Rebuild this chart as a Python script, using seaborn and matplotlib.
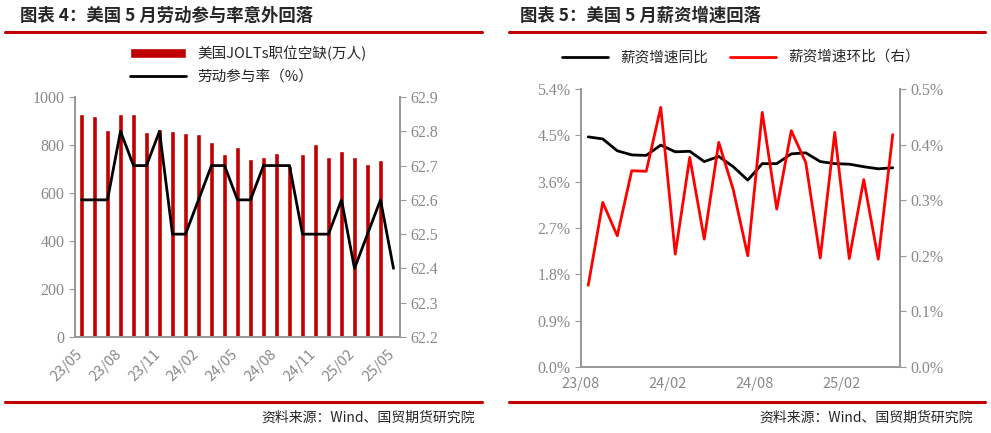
import numpy as np
import pandas as pd
import matplotlib
matplotlib.use("Agg")
import matplotlib.pyplot as plt
import seaborn as sns

sns.set_style("white")
plt.rcParams['font.family'] = ['Noto Sans CJK SC', 'DejaVu Sans']
plt.rcParams['axes.unicode_minus'] = False

months_l = ["23/05","23/06","23/07","23/08","23/09","23/10","23/11","23/12","24/01","24/02","24/03","24/04",
            "24/05","24/06","24/07","24/08","24/09","24/10","24/11","24/12","25/01","25/02","25/03","25/04","25/05"]
jolts = [931,920,861,931,930,856,867,860,849,846,811,764,790,741,751,767,711,764,804,751,776,748,720,739]
lfpr = [62.6,62.6,62.6,62.8,62.7,62.7,62.8,62.5,62.5,62.6,62.7,62.7,62.6,62.6,62.7,62.7,62.7,62.5,62.5,62.5,62.6,62.4,62.5,62.6,62.4]
ticks_l = ["23/05","23/08","23/11","24/02","24/05","24/08","24/11","25/02","25/05"]

months_r = ["23/08","23/09","23/10","23/11","23/12","24/01","24/02","24/03","24/04","24/05","24/06","24/07",
            "24/08","24/09","24/10","24/11","24/12","25/01","25/02","25/03","25/04","25/05"]
wage_yoy = [4.47,4.43,4.20,4.12,4.11,4.31,4.18,4.19,3.99,4.09,3.89,3.63,3.95,3.95,4.14,4.16,3.99,3.95,3.94,3.89,3.85,3.87]
wage_mom = [0.147,0.296,0.236,0.353,0.352,0.467,0.203,0.377,0.230,0.404,0.319,0.200,0.458,0.284,0.425,0.368,0.196,0.422,0.195,0.337,0.194,0.418]
ticks_r = ["23/08","24/02","24/08","25/02"]

RED = "#c00000"
GRAY = "#999999"
TXT = "#888888"
SERIF = ['Liberation Serif', 'DejaVu Serif']
W, H = 991, 433
fig = plt.figure(figsize=(W/100, H/100), dpi=100)

def fx(px): return px / W
def fy(py): return 1 - py / H

fig.text(fx(20), fy(16), "图表 4：美国 5 月劳动参与率意外回落", fontsize=12.5, fontweight='bold', va='center', ha='left')
fig.text(fx(520), fy(16), "图表 5：美国 5 月薪资增速回落", fontsize=12.5, fontweight='bold', va='center', ha='left')
for x0, x1 in [(5, 482), (509, 985)]:
    fig.add_artist(plt.Line2D([fx(x0), fx(x1)], [fy(32), fy(32)], color=RED, lw=2.2))
    fig.add_artist(plt.Line2D([fx(x0), fx(x1)], [fy(402), fy(402)], color=RED, lw=2.2))
fig.text(fx(475), fy(418), "资料来源：Wind、国贸期货研究院", fontsize=10, ha='right', va='center')
fig.text(fx(973), fy(418), "资料来源：Wind、国贸期货研究院", fontsize=10, ha='right', va='center')

def style(ax):
    ax.spines["top"].set_visible(False)
    for s in ["left", "right", "bottom"]:
        ax.spines[s].set_color(GRAY)
        ax.spines[s].set_linewidth(1.3)
    ax.tick_params(colors=TXT, labelsize=10.5, length=4, color=GRAY, direction='out')
    for t in ax.get_yticklabels():
        t.set_fontfamily(SERIF)
        t.set_fontsize(11.5)

axl = fig.add_axes([fx(75), fy(337), fx(325), fy(97) - fy(337)])
dfl = pd.DataFrame({"x": np.arange(len(jolts)), "v": jolts})
sns.barplot(data=dfl, x="x", y="v", native_scale=True, color=RED, saturation=1, width=0.45, ax=axl,
            label="美国JOLTs职位空缺(万人)")
axl.set_xlim(-0.5, len(months_l) - 0.5)
axl.set_ylim(0, 1000)
axl.set_yticks(range(0, 1001, 200))
axl.set_xticks([i - 0.5 for i in range(0, 25, 3)])
axl.set_xticklabels(ticks_l, rotation=45, ha='right', rotation_mode='anchor')
axl.set_xlabel(""); axl.set_ylabel("")
axl2 = axl.twinx()
dfl2 = pd.DataFrame({"x": np.arange(len(lfpr)), "v": lfpr})
sns.lineplot(data=dfl2, x="x", y="v", color="black", lw=2, ax=axl2, label="劳动参与率（%）")
axl2.set_ylim(62.2, 62.9)
axl2.set_yticks(np.round(np.arange(62.2, 62.91, 0.1), 1))
axl2.set_xlabel(""); axl2.set_ylabel("")
style(axl); style(axl2)
h1, l1 = axl.get_legend_handles_labels()
h2, l2 = axl2.get_legend_handles_labels()
axl2.legend(h1 + h2, l1 + l2, loc='lower left', bbox_to_anchor=(0.13, 1.0), frameon=False,
            fontsize=10.5, handlelength=3.8, labelspacing=0.6)
if axl.get_legend(): axl.get_legend().remove()

axr = fig.add_axes([fx(581), fy(367), fx(319), fy(89) - fy(367)])
dfr = pd.DataFrame({"x": np.arange(len(wage_yoy)), "v": wage_yoy})
sns.lineplot(data=dfr, x="x", y="v", color="black", lw=2, ax=axr, label="薪资增速同比")
axr.set_xlim(-0.5, len(months_r) - 0.5)
axr.set_ylim(0, 5.4)
axr.set_yticks(np.arange(0, 5.41, 0.9))
axr.set_yticklabels([f"{v:.1f}%" for v in np.arange(0, 5.41, 0.9)])
axr.set_xticks([-0.5, 5.5, 11.5, 17.5])
axr.set_xticklabels(ticks_r)
axr.set_xlabel(""); axr.set_ylabel("")
axr2 = axr.twinx()
dfr2 = pd.DataFrame({"x": np.arange(len(wage_mom)), "v": wage_mom})
sns.lineplot(data=dfr2, x="x", y="v", color="#ff0000", lw=2, ax=axr2, label="薪资增速环比（右）")
axr2.set_ylim(0, 0.5)
axr2.set_yticks(np.arange(0, 0.51, 0.1))
axr2.set_yticklabels([f"{v:.1f}%" for v in np.arange(0, 0.51, 0.1)])
axr2.set_xlabel(""); axr2.set_ylabel("")
style(axr); style(axr2)
h1, l1 = axr.get_legend_handles_labels()
h2, l2 = axr2.get_legend_handles_labels()
axr2.legend(h1 + h2, l1 + l2, loc='lower center', bbox_to_anchor=(0.5, 1.04), ncol=2, frameon=False,
            fontsize=10.5, handlelength=3.2, columnspacing=1.5)
if axr.get_legend(): axr.get_legend().remove()

fig.savefig("out.png", dpi=100)
